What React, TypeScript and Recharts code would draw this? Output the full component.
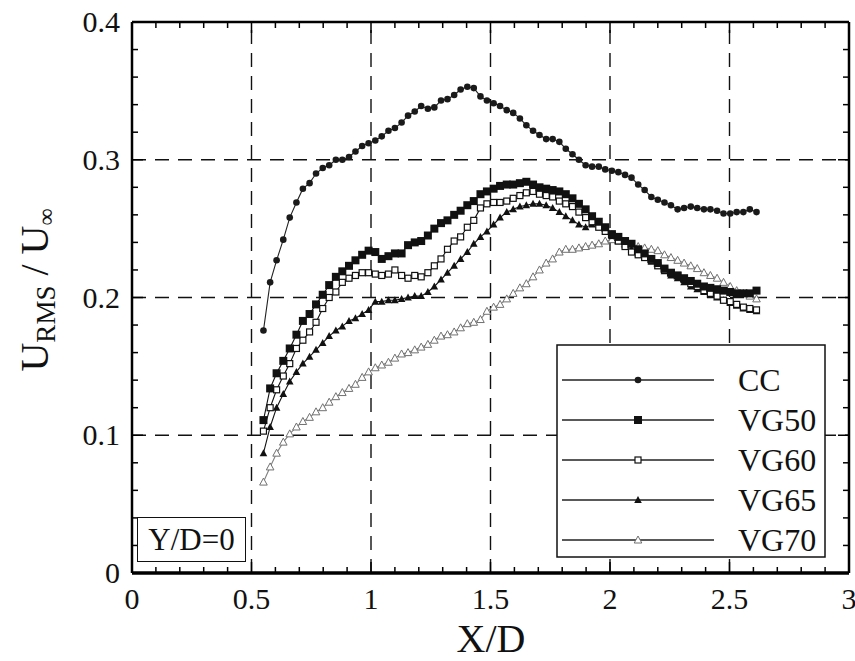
import React from "react";
import { LineChart, Line, XAxis, YAxis, ReferenceLine } from "recharts";

// X/D stations (shared by all five profiles)
const xPositions = [
  0.55, 0.578, 0.605, 0.633, 0.66, 0.688, 0.715, 0.743, 0.77, 0.798,
  0.825, 0.853, 0.88, 0.908, 0.935, 0.963, 0.99, 1.018, 1.045, 1.073,
  1.1, 1.128, 1.155, 1.183, 1.21, 1.238, 1.265, 1.293, 1.32, 1.348,
  1.375, 1.403, 1.43, 1.458, 1.485, 1.513, 1.54, 1.568, 1.595, 1.623,
  1.65, 1.678, 1.705, 1.733, 1.76, 1.788, 1.815, 1.843, 1.87, 1.898,
  1.925, 1.953, 1.98, 2.008, 2.035, 2.063, 2.09, 2.118, 2.145, 2.173,
  2.2, 2.228, 2.255, 2.283, 2.31, 2.338, 2.365, 2.393, 2.42, 2.448,
  2.475, 2.503, 2.53, 2.558, 2.585, 2.613,
];

const ccValues = [
  0.176, 0.211, 0.227, 0.242, 0.258, 0.269, 0.279, 0.283, 0.29, 0.294,
  0.296, 0.3, 0.3, 0.302, 0.306, 0.31, 0.312, 0.314, 0.317, 0.321,
  0.323, 0.327, 0.332, 0.335, 0.339, 0.337, 0.338, 0.343, 0.344, 0.347,
  0.351, 0.353, 0.352, 0.346, 0.343, 0.341, 0.339, 0.336, 0.334, 0.33,
  0.325, 0.321, 0.318, 0.315, 0.315, 0.313, 0.308, 0.304, 0.3, 0.296,
  0.295, 0.295, 0.293, 0.292, 0.291, 0.289, 0.287, 0.282, 0.278, 0.273,
  0.271, 0.269, 0.267, 0.264, 0.265, 0.266, 0.265, 0.264, 0.264, 0.263,
  0.261, 0.261, 0.262, 0.262, 0.264, 0.262,
];

const vg50Values = [
  0.111, 0.134, 0.145, 0.154, 0.163, 0.173, 0.183, 0.188, 0.195, 0.202,
  0.209, 0.215, 0.219, 0.223, 0.227, 0.231, 0.234, 0.233, 0.228, 0.23,
  0.232, 0.232, 0.238, 0.24, 0.241, 0.245, 0.25, 0.254, 0.256, 0.26,
  0.263, 0.267, 0.27, 0.275, 0.277, 0.279, 0.281, 0.282, 0.282, 0.283,
  0.284, 0.282, 0.28, 0.279, 0.278, 0.277, 0.275, 0.272, 0.268, 0.264,
  0.259, 0.255, 0.251, 0.246, 0.244, 0.241, 0.239, 0.235, 0.232, 0.228,
  0.225, 0.221, 0.218, 0.216, 0.214, 0.212, 0.21, 0.208, 0.207, 0.206,
  0.205, 0.204, 0.203, 0.203, 0.203, 0.205,
];

const vg60Values = [
  0.103, 0.12, 0.133, 0.143, 0.152, 0.163, 0.169, 0.175, 0.182, 0.192,
  0.2, 0.204, 0.211, 0.214, 0.216, 0.218, 0.218, 0.217, 0.216, 0.217,
  0.22, 0.216, 0.214, 0.216, 0.215, 0.218, 0.223, 0.228, 0.235, 0.241,
  0.244, 0.251, 0.256, 0.265, 0.268, 0.269, 0.269, 0.27, 0.272, 0.274,
  0.276, 0.277, 0.275, 0.274, 0.273, 0.27, 0.268, 0.266, 0.262, 0.258,
  0.255, 0.251, 0.248, 0.245, 0.241, 0.237, 0.233, 0.231, 0.229, 0.227,
  0.223, 0.22, 0.218, 0.216, 0.213, 0.21, 0.208, 0.205, 0.203, 0.201,
  0.198, 0.197, 0.195, 0.193, 0.192, 0.191,
];

const vg65Values = [
  0.087, 0.106, 0.12, 0.13, 0.139, 0.146, 0.152, 0.157, 0.162, 0.167,
  0.172, 0.176, 0.179, 0.183, 0.185, 0.188, 0.191, 0.197, 0.197, 0.198,
  0.198, 0.199, 0.2, 0.201, 0.201, 0.204, 0.208, 0.213, 0.218, 0.223,
  0.228, 0.233, 0.239, 0.244, 0.248, 0.253, 0.258, 0.262, 0.264, 0.266,
  0.267, 0.268, 0.268, 0.267, 0.265, 0.262, 0.259, 0.256, 0.253, 0.251,
  0.253, 0.254, 0.25, 0.246, 0.242, 0.238, 0.235, 0.232, 0.229, 0.226,
  0.223, 0.219, 0.216, 0.214, 0.211, 0.208, 0.206, 0.204, 0.202, 0.2,
  0.198, 0.196, 0.194, 0.192, 0.191, 0.19,
];

const vg70Values = [
  0.066, 0.077, 0.087, 0.095, 0.101, 0.106, 0.11, 0.113, 0.117, 0.12,
  0.124, 0.128, 0.131, 0.134, 0.137, 0.142, 0.146, 0.149, 0.151, 0.153,
  0.156, 0.159, 0.16, 0.162, 0.164, 0.166, 0.169, 0.172, 0.173, 0.175,
  0.178, 0.181, 0.182, 0.184, 0.19, 0.193, 0.195, 0.199, 0.203, 0.207,
  0.21, 0.215, 0.22, 0.225, 0.228, 0.233, 0.235, 0.235, 0.236, 0.237,
  0.238, 0.239, 0.241, 0.242, 0.241, 0.239, 0.238, 0.237, 0.236, 0.235,
  0.234, 0.231, 0.229, 0.227, 0.225, 0.223, 0.221, 0.218, 0.216, 0.214,
  0.211, 0.208, 0.205, 0.203, 0.201, 0.199,
];

const xTicks = [
  0, 0.1, 0.2, 0.3, 0.4, 0.5, 0.6, 0.7, 0.8, 0.9, 1, 1.1, 1.2, 1.3, 1.4, 1.5,
  1.6, 1.7, 1.8, 1.9, 2, 2.1, 2.2, 2.3, 2.4, 2.5, 2.6, 2.7, 2.8, 2.9, 3,
];
const yTicks = [
  0, 0.02, 0.04, 0.06, 0.08, 0.1, 0.12, 0.14, 0.16, 0.18, 0.2, 0.22, 0.24,
  0.26, 0.28, 0.3, 0.32, 0.34, 0.36, 0.38, 0.4,
];
const xGrid = [0.5, 1, 1.5, 2, 2.5];
const yGrid = [0.1, 0.2, 0.3];

const W = 855;
const H = 661;
const PLOT_LEFT = 132;
const PLOT_TOP = 22;
const PLOT_RIGHT = 849;
const PLOT_BOTTOM = 573;
const FONT = "'Liberation Serif', 'Times New Roman', serif";

const chartData = xPositions.map((x, i) => ({
  x,
  cc: ccValues[i],
  vg50: vg50Values[i],
  vg60: vg60Values[i],
  vg65: vg65Values[i],
  vg70: vg70Values[i],
}));

const isMajor = (v: number, step: number) =>
  Math.abs(v / step - Math.round(v / step)) < 1e-6;
const fmt = (v: number) => String(Number(v.toFixed(2)));

// marker shapes
function Marker({ kind, cx, cy }: { kind: string; cx: number; cy: number }) {
  if (kind === "circle") return <circle cx={cx} cy={cy} r={3.3} fill="#1a1a1a" />;
  if (kind === "squareFilled")
    return <rect x={cx - 4} y={cy - 4} width={8} height={8} fill="#111" />;
  if (kind === "squareOpen")
    return (
      <rect x={cx - 3} y={cy - 3} width={6} height={6} fill="#fff" stroke="#111" strokeWidth={1.2} />
    );
  if (kind === "triFilled")
    return (
      <polygon points={`${cx},${cy - 4} ${cx + 3.8},${cy + 3} ${cx - 3.8},${cy + 3}`} fill="#111" />
    );
  return (
    <polygon
      points={`${cx},${cy - 4} ${cx + 3.8},${cy + 3} ${cx - 3.8},${cy + 3}`}
      fill="#fff"
      stroke="#707070"
      strokeWidth={1}
    />
  );
}

const series = [
  { key: "vg70", name: "VG70", marker: "triOpen", color: "#808080" },
  { key: "vg65", name: "VG65", marker: "triFilled", color: "#111" },
  { key: "vg60", name: "VG60", marker: "squareOpen", color: "#111" },
  { key: "vg50", name: "VG50", marker: "squareFilled", color: "#111" },
  { key: "cc", name: "CC", marker: "circle", color: "#222" },
];

const BottomTick = (props: any) => {
  const { x, y, payload } = props;
  const major = isMajor(payload.value, 0.5);
  const len = major ? 11 : 6;
  return (
    <g>
      <line x1={x} y1={y} x2={x} y2={y - len} stroke="#000" strokeWidth={1.5} />
      <line x1={x} y1={PLOT_TOP} x2={x} y2={PLOT_TOP + len} stroke="#000" strokeWidth={1.5} />
      {major && (
        <text x={x} y={y + 36} textAnchor="middle" fontSize={30} fontFamily={FONT} fill="#111">
          {fmt(payload.value)}
        </text>
      )}
    </g>
  );
};

const LeftTick = (props: any) => {
  const { x, y, payload } = props;
  const major = isMajor(payload.value, 0.1);
  const len = major ? 11 : 6;
  return (
    <g>
      <line x1={x} y1={y} x2={x + len} y2={y} stroke="#000" strokeWidth={1.5} />
      <line x1={PLOT_RIGHT} y1={y} x2={PLOT_RIGHT - len} y2={y} stroke="#000" strokeWidth={1.5} />
      {major && (
        <text x={x - 12} y={y + 10} textAnchor="end" fontSize={30} fontFamily={FONT} fill="#111">
          {fmt(payload.value)}
        </text>
      )}
    </g>
  );
};

function LegendBox() {
  const rows = [...series].reverse();
  return (
    <svg
      width={270}
      height={214}
      style={{ position: "absolute", left: 556, top: 344 }}
    >
      <rect x={1} y={1} width={268} height={212} fill="#fff" stroke="#111" strokeWidth={1.5} />
      {rows.map((s, i) => {
        const cy = 36 + i * 40;
        return (
          <g key={s.key}>
            <line x1={6} y1={cy} x2={158} y2={cy} stroke="#222" strokeWidth={1.3} />
            <Marker kind={s.marker} cx={82} cy={cy} />
            <text x={182} y={cy + 11} fontSize={32} fontFamily={FONT} fill="#111">
              {s.name}
            </text>
          </g>
        );
      })}
    </svg>
  );
}

export default function App() {
  return (
    <div style={{ position: "absolute", left: 0, top: 0, width: W, height: H, background: "#fff" }}>
      <LineChart
        width={W}
        height={H}
        data={chartData}
        margin={{ top: PLOT_TOP, right: W - PLOT_RIGHT, bottom: 0, left: 0 }}
      >
        {xGrid.map((v) => (
          <ReferenceLine key={"gx" + v} x={v} stroke="#111" strokeWidth={1.4} strokeDasharray="14 9" />
        ))}
        {yGrid.map((v) => (
          <ReferenceLine key={"gy" + v} y={v} stroke="#111" strokeWidth={1.4} strokeDasharray="14 9" />
        ))}
        <ReferenceLine y={0.4} stroke="#000" strokeWidth={2.5} />
        <ReferenceLine x={3} stroke="#000" strokeWidth={2.5} />
        <XAxis
          dataKey="x"
          type="number"
          domain={[0, 3]}
          ticks={xTicks}
          interval={0}
          height={H - PLOT_BOTTOM}
          tickSize={0}
          tickMargin={0}
          tickLine={false}
          axisLine={{ stroke: "#000", strokeWidth: 3.5 }}
          tick={<BottomTick />}
          allowDataOverflow
        />
        <YAxis
          type="number"
          domain={[0, 0.4]}
          ticks={yTicks}
          interval={0}
          width={PLOT_LEFT}
          tickSize={0}
          tickMargin={0}
          tickLine={false}
          axisLine={{ stroke: "#000", strokeWidth: 2.5 }}
          tick={<LeftTick />}
          allowDataOverflow
        />
        {series.map((s) => (
          <Line
            key={s.key}
            dataKey={s.key}
            name={s.name}
            type="linear"
            stroke={s.color}
            strokeWidth={1.1}
            isAnimationActive={false}
            dot={(p: any) => (
              <Marker key={s.key + p.index} kind={s.marker} cx={p.cx} cy={p.cy} />
            )}
            activeDot={false}
          />
        ))}
      </LineChart>

      {/* axis titles */}
      <svg width={W} height={H} style={{ position: "absolute", left: 0, top: 0, pointerEvents: "none" }}>
        <text x={491} y={652} textAnchor="middle" fontSize={40} fontFamily={FONT} fill="#111">
          X/D
        </text>
        <text
          transform="translate(48, 290) rotate(-90)"
          textAnchor="middle"
          fontSize={40}
          fontFamily={FONT}
          fill="#111"
        >
          U<tspan fontSize={27} dy={7}>RMS</tspan>
          <tspan dy={-7}> / U</tspan>
          <tspan fontSize={24} dy={6}>∞</tspan>
        </text>
      </svg>

      <LegendBox />

      <div
        style={{
          position: "absolute",
          left: 137,
          top: 517,
          width: 107,
          height: 43,
          border: "1.5px solid #111",
          background: "#fff",
          fontFamily: FONT,
          fontSize: 31,
          lineHeight: "43px",
          textAlign: "center",
          color: "#111",
        }}
      >
        Y/D=0
      </div>
    </div>
  );
}
